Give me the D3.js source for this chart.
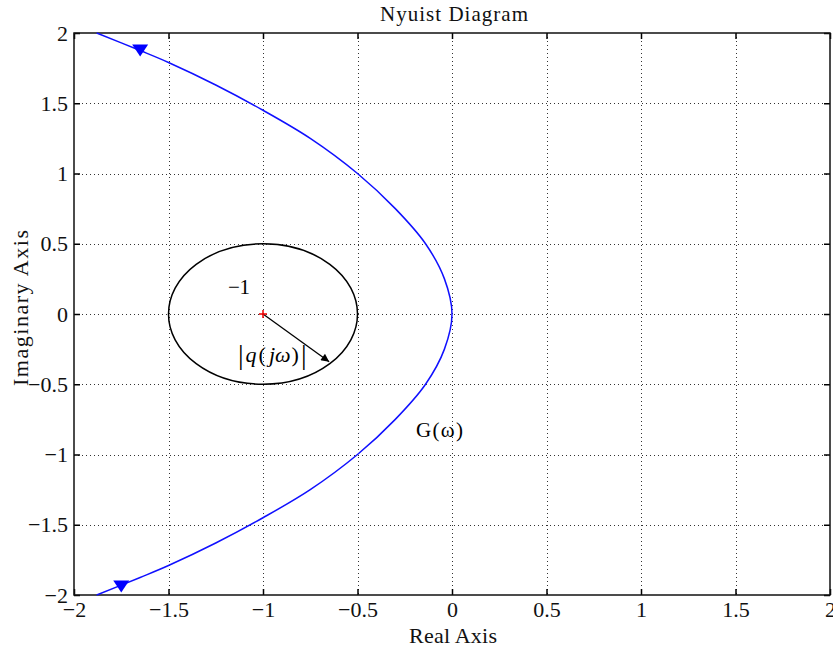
<!DOCTYPE html>
<html>
<head>
<meta charset="utf-8">
<script src="https://cdn.jsdelivr.net/npm/d3@7"></script>
<style>
  body { margin: 0; background: #fff; }
  text { font-family: "Liberation Serif", "Times New Roman", serif; }
</style>
</head>
<body>
<svg id="chart" width="833" height="654"></svg>
<script>
// ticks shared by both axes
var ticks = [-2, -1.5, -1, -0.5, 0, 0.5, 1, 1.5, 2];
var tickLabels = ["\u22122", "\u22121.5", "\u22121", "\u22120.5", "0", "0.5", "1", "1.5", "2"];

// Nyquist curve G(w) (real, imag)
var curveRe = [-1.88, -1.65, -1.5, -1.25, -1.0, -0.75, -0.5, -0.3, -0.14, -0.04, 0,
               -0.04, -0.14, -0.3, -0.5, -0.75, -1.0, -1.25, -1.5, -1.65, -1.88];
var curveIm = [2.0, 1.875, 1.79, 1.63, 1.45, 1.25, 1.0, 0.75, 0.5, 0.25, 0,
               -0.25, -0.5, -0.75, -1.0, -1.25, -1.45, -1.63, -1.79, -1.875, -2.0];

// direction markers (down-pointing triangles)
var markerRe = [-1.65, -1.75];
var markerIm = [1.875, -1.94];

// critical point circle
var centerRe = -1, centerIm = 0, radius = 0.5;
var arrowTip = [-0.65, -0.34];

var svg = d3.select("#chart");
var pLeft = 74, pRight = 830, pTop = 33, pBottom = 595;

var x = d3.scaleLinear().domain([-2, 2]).range([pLeft, pRight]);
var y = d3.scaleLinear().domain([-2, 2]).range([pBottom, pTop]);

// grid
var grid = svg.append("g").attr("stroke", "#333").attr("stroke-width", 1)
    .attr("stroke-dasharray", "1,3");
grid.selectAll(".gx").data(ticks.slice(1, -1)).enter().append("line")
    .attr("x1", d => Math.round(x(d)) + 0.5).attr("x2", d => Math.round(x(d)) + 0.5)
    .attr("y1", pTop).attr("y2", pBottom);
grid.selectAll(".gy").data(ticks.slice(1, -1)).enter().append("line")
    .attr("y1", d => Math.round(y(d)) + 0.5).attr("y2", d => Math.round(y(d)) + 0.5)
    .attr("x1", pLeft).attr("x2", pRight);

// axes with inner ticks, MATLAB style
var fmt = d => tickLabels[ticks.indexOf(d)];
function styleAxis(g) {
    g.select(".domain").remove();
    g.selectAll(".tick line").attr("stroke", "#000").attr("stroke-width", 1.5);
    g.selectAll(".tick text").attr("font-size", 22).attr("fill", "#111")
        .attr("font-family", "'Liberation Serif', serif");
}
svg.append("g").attr("transform", "translate(0," + pBottom + ")")
    .call(d3.axisBottom(x).tickValues(ticks).tickFormat(fmt).tickSizeInner(-6).tickPadding(6))
    .call(styleAxis);
svg.append("g").attr("transform", "translate(0," + pTop + ")")
    .call(d3.axisTop(x).tickValues(ticks).tickFormat("").tickSizeInner(-6))
    .call(styleAxis);
svg.append("g").attr("transform", "translate(" + pLeft + ",0)")
    .call(d3.axisLeft(y).tickValues(ticks).tickFormat(fmt).tickSizeInner(-6).tickPadding(6))
    .call(styleAxis);
svg.append("g").attr("transform", "translate(" + pRight + ",0)")
    .call(d3.axisRight(y).tickValues(ticks).tickFormat("").tickSizeInner(-6))
    .call(styleAxis);

// frame
svg.append("rect").attr("x", pLeft).attr("y", pTop)
    .attr("width", pRight - pLeft).attr("height", pBottom - pTop)
    .attr("fill", "none").attr("stroke", "#111").attr("stroke-width", 1.5);

// circle |q(jw)| around -1
svg.append("ellipse")
    .attr("cx", x(centerRe)).attr("cy", y(centerIm))
    .attr("rx", x(centerRe + radius) - x(centerRe))
    .attr("ry", y(centerIm) - y(centerIm + radius))
    .attr("fill", "none").attr("stroke", "#000").attr("stroke-width", 1.5);

// arrow
svg.append("defs").append("marker").attr("id", "head")
    .attr("viewBox", "0 0 10 10").attr("refX", 10).attr("refY", 5)
    .attr("markerWidth", 13).attr("markerHeight", 8).attr("markerUnits", "userSpaceOnUse")
    .attr("orient", "auto")
    .append("path").attr("d", "M0,0L10,5L0,10z").attr("fill", "#000");
svg.append("line")
    .attr("x1", x(centerRe)).attr("y1", y(centerIm))
    .attr("x2", x(arrowTip[0])).attr("y2", y(arrowTip[1]))
    .attr("stroke", "#000").attr("stroke-width", 1.3)
    .attr("marker-end", "url(#head)");

// red + at -1
var cx0 = x(centerRe), cy0 = y(centerIm);
svg.append("path").attr("d", "M" + (cx0 - 4) + "," + cy0 + "H" + (cx0 + 4) + "M" + cx0 + "," + (cy0 - 4) + "V" + (cy0 + 4))
    .attr("stroke", "#e00").attr("stroke-width", 1.5);

// Nyquist curve
var pts = curveRe.map((d, i) => [d, curveIm[i]]);
svg.append("path").datum(pts)
    .attr("d", d3.line().x(d => x(d[0])).y(d => y(d[1])).curve(d3.curveCatmullRom))
    .attr("fill", "none").attr("stroke", "#1010ff").attr("stroke-width", 1.5);

svg.selectAll(".mk").data(markerRe).enter().append("path")
    .attr("transform", (d, i) => "translate(" + x(d) + "," + y(markerIm[i]) + ")")
    .attr("d", "M-8,-6L8,-6L0,6z").attr("fill", "#0000ff");

// annotations
svg.append("text").attr("x", 228).attr("y", 294).attr("font-size", 21)
    .attr("textLength", 22).text("\u22121");
var q = svg.append("text").attr("x", 238).attr("y", 362).attr("font-size", 22);
q.append("tspan").attr("font-size", 28).attr("dy", 2).text("|");
q.append("tspan").attr("font-style", "italic").attr("dx", 2).attr("dy", -2).text("q");
q.append("tspan").attr("dx", 2).text("(");
q.append("tspan").attr("font-style", "italic").attr("dx", 3).text("j\u03c9");
q.append("tspan").attr("dx", 1).text(")");
q.append("tspan").attr("font-size", 28).attr("dx", 2).attr("dy", 2).text("|");
svg.append("text").attr("x", 416).attr("y", 437).attr("font-size", 21)
    .attr("textLength", 47).text("G(\u03c9)");

// titles
svg.append("text").attr("x", 380).attr("y", 21)
    .attr("font-size", 21).attr("textLength", 148).attr("fill", "#111").text("Nyuist Diagram");
svg.append("text").attr("x", 409).attr("y", 643)
    .attr("font-size", 22).attr("textLength", 88).attr("fill", "#111").text("Real Axis");
svg.append("text").attr("transform", "translate(28,386) rotate(-90)")
    .attr("font-size", 22).attr("textLength", 156).attr("fill", "#111").text("Imaginary Axis");
</script>
</body>
</html>
